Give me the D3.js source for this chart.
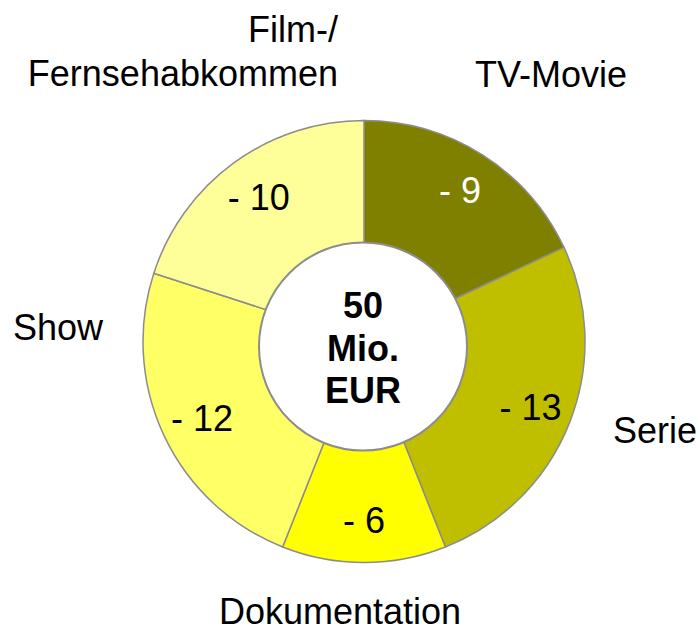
<!DOCTYPE html>
<html>
<head>
<meta charset="utf-8">
<script src="https://cdn.jsdelivr.net/npm/d3@7"></script>
<style>
  html, body { margin: 0; padding: 0; background: #fff; }
  svg { display: block; font-family: "Liberation Sans", Arial, sans-serif; }
</style>
</head>
<body>
<svg id="chart" width="700" height="633"></svg>
<script>
// Doughnut: 50 Mio. EUR split by genre (clockwise from 12 o'clock)
const categories = ['TV-Movie', 'Serie', 'Dokumentation', 'Show', 'Film-/\nFernsehabkommen'];
const values = [9, 13, 6, 12, 10];
const valueLabels = ['- 9', '- 13', '- 6', '- 12', '- 10'];
const centerLines = ['50', 'Mio.', 'EUR'];

// --- Setup ---
const W = 700, H = 633;
const CX = 364, CY = 341.5;
const OUTER = 221;
const HOLE = 104;
const LABEL_R = 179;

const COLORS = ['#808000', '#BFBF00', '#FFFF00', '#FFFF66', '#FFFF99'];
const TEXT_FILL = ['#ffffff', '#000000', '#000000', '#000000', '#000000'];
const STROKE = '#8c8c8c';

const svg = d3.select('#chart');

const color = d3.scaleOrdinal().domain(categories).range(COLORS);

const pie = d3.pie().sort(null).value(d => d.value);
const data = categories.map((c, i) => ({ name: c, value: values[i], label: valueLabels[i], fill: TEXT_FILL[i] }));
const arcs = pie(data);

const arc = d3.arc().innerRadius(0).outerRadius(OUTER);
const labelArc = d3.arc().innerRadius(LABEL_R).outerRadius(LABEL_R);

const g = svg.append('g').attr('transform', `translate(${CX},${CY})`);

// slices
g.selectAll('path.slice')
  .data(arcs)
  .join('path')
  .attr('class', 'slice')
  .attr('d', arc)
  .attr('fill', d => color(d.data.name))
  .attr('stroke', STROKE)
  .attr('stroke-width', 1.5);

// hole (sits slightly below the ring centre, as in the original)
g.append('circle')
  .attr('cx', -1)
  .attr('cy', 5)
  .attr('r', HOLE)
  .attr('fill', '#fff')
  .attr('stroke', STROKE)
  .attr('stroke-width', 2);

// value labels
g.selectAll('text.val')
  .data(arcs)
  .join('text')
  .attr('class', 'val')
  .attr('transform', d => `translate(${labelArc.centroid(d)})`)
  .attr('text-anchor', 'middle')
  .attr('dy', '0.36em')
  .style('font-size', '36px')
  .style('fill', d => d.data.fill)
  .text(d => d.data.label);

// centre text
g.append('text')
  .attr('text-anchor', 'middle')
  .style('font-size', '36px')
  .style('font-weight', 'bold')
  .selectAll('tspan')
  .data(centerLines)
  .join('tspan')
  .attr('x', -1)
  .attr('y', (d, i) => -23.5 + i * 42.5)
  .text(d => d);

// category labels around the ring
const outside = [
  { x: 551, y: 87, anchor: 'middle' },   // TV-Movie
  { x: 613, y: 443, anchor: 'start' },   // Serie
  { x: 340, y: 624, anchor: 'middle' },  // Dokumentation
  { x: 13, y: 340, anchor: 'start' },    // Show
  { x: 338, y: 42, anchor: 'end' }       // Film-/ Fernsehabkommen
];

categories.forEach((c, i) => {
  const p = outside[i];
  const t = svg.append('text')
    .attr('text-anchor', p.anchor)
    .style('font-size', '36px')
    .style('fill', '#000');
  c.split('\n').forEach((line, j) => {
    t.append('tspan')
      .attr('x', p.x)
      .attr('y', p.y + j * 44)
      .text(line);
  });
});
</script>
</body>
</html>
